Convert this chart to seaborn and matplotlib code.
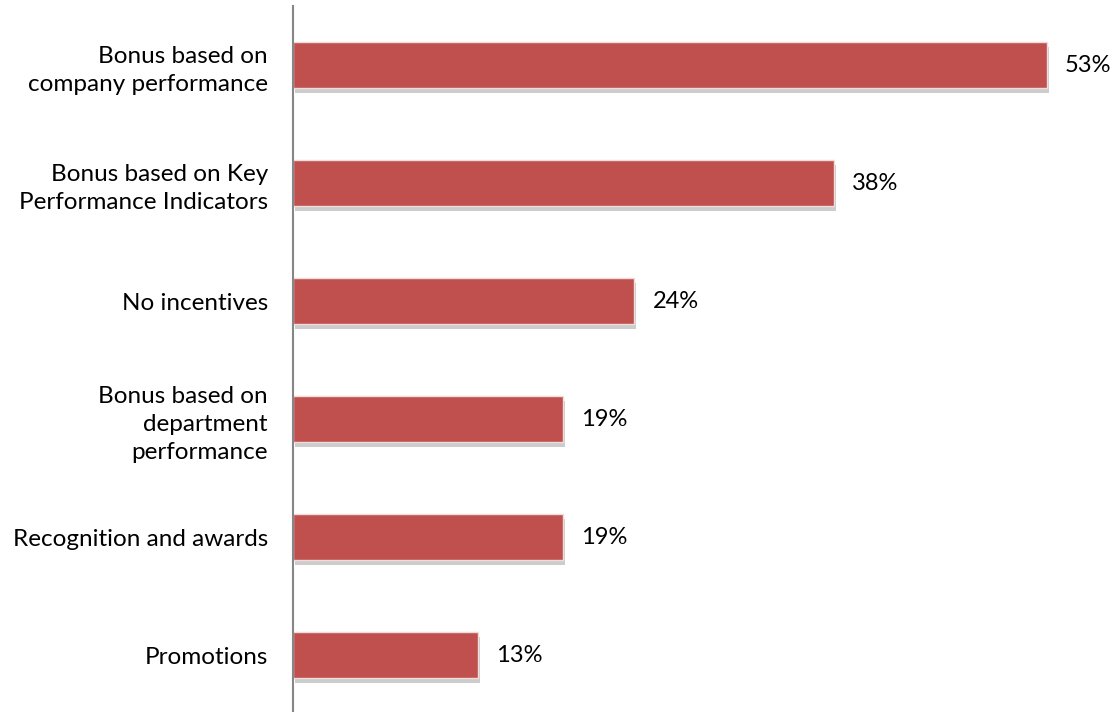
import matplotlib
matplotlib.use("Agg")
import matplotlib.pyplot as plt
import matplotlib.patheffects as pe
import pandas as pd
import seaborn as sns

# datos
categorias = [
    "Bonus based on\ncompany performance",
    "Bonus based on Key\nPerformance Indicators",
    "No incentives",
    "Bonus based on\ndepartment\nperformance",
    "Recognition and awards",
    "Promotions",
]
valores = [53, 38, 24, 19, 19, 13]

df = pd.DataFrame({"categoria": categorias, "valor": valores})

sns.set_style("white")
plt.rcParams["font.family"] = ["Lato", "DejaVu Sans"]

fig = plt.figure(figsize=(11.16, 7.12), dpi=100)
ax = fig.add_axes([293 / 1116, -2 / 712, (1118 - 293) / 1116, 708 / 712])

sns.barplot(data=df, x="valor", y="categoria", color="#C0504D",
            width=0.39, saturation=1, ax=ax, orient="h")

# borde claro y sombra como en Excel
for p in ax.patches:
    p.set_edgecolor("#F2DCDB")
    p.set_linewidth(1.0)
    p.set_path_effects([pe.SimplePatchShadow(offset=(1.5, -3.5), shadow_rgbFace="#808080", alpha=0.4),
                        pe.Normal()])

for i, v in enumerate(valores):
    ax.annotate(f"{v}%", (v, i), xytext=(13, 0), textcoords="offset points",
                va="center", ha="left", fontsize=17, color="#000000")

ax.set_xlim(0, 58)
ax.set_xlabel("")
ax.set_ylabel("")
ax.set_xticks([])
ax.tick_params(axis="y", length=0, pad=18, labelsize=17.5, labelcolor="#000000")
for lbl in ax.get_yticklabels():
    lbl.set_multialignment("right")
    lbl.set_linespacing(1.4)

sns.despine(ax=ax, top=True, right=True, bottom=True, left=False)
ax.spines["left"].set_color("#868686")
ax.spines["left"].set_linewidth(1.5)

fig.savefig("out.png", dpi=100)
